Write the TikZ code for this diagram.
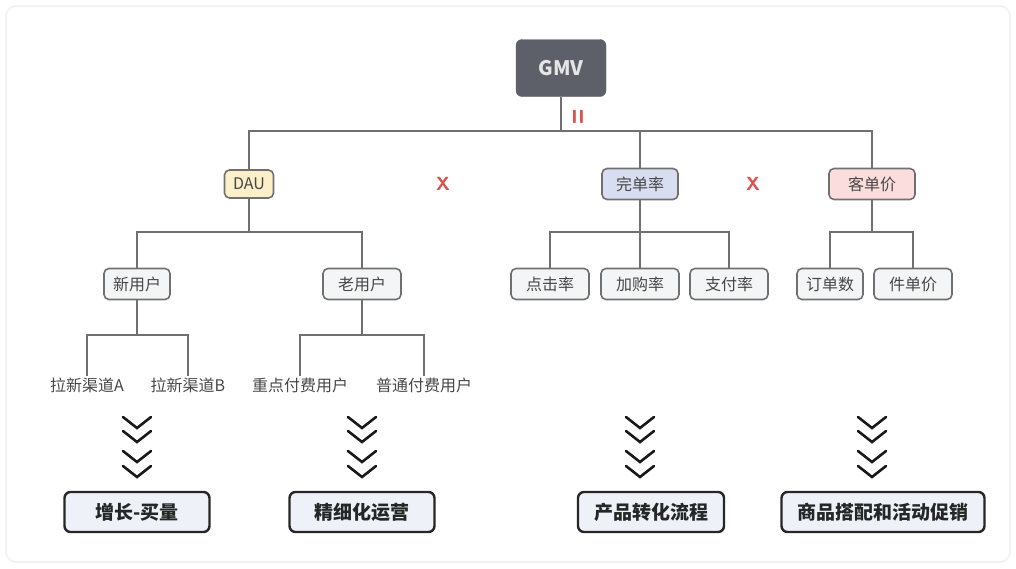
\documentclass[tikz,border=0pt]{standalone}
\usepackage{fontspec}
\newfontfamily\cjk{Noto Sans CJK SC}
\usetikzlibrary{positioning}
\definecolor{lineg}{HTML}{707070}
\definecolor{textg}{HTML}{474747}
\definecolor{cellg}{HTML}{F4F5F6}
\definecolor{gmvg}{HTML}{5D6068}
\definecolor{dauy}{HTML}{FBF0C8}
\definecolor{wdlb}{HTML}{D8DDF1}
\definecolor{kdjp}{HTML}{FCDDDD}
\definecolor{resbg}{HTML}{EEF2F8}
\definecolor{opred}{HTML}{D9534F}

\begin{document}
\begin{tikzpicture}[x=1pt, y=-1pt,
  box/.style={draw=lineg, line width=1.6pt, rounded corners=5pt, fill=cellg, text=textg,
              font=\cjk\fontsize{16}{19}\selectfont, minimum width=78pt, minimum height=31pt, inner sep=2pt},
  topbox/.style={draw=gmvg, fill=gmvg, rounded corners=6pt, text=white!90!black,
                 font=\cjk\bfseries\fontsize{20}{24}\selectfont, minimum width=90pt, minimum height=57pt},
  leaf/.style={text=textg, font=\cjk\fontsize{16}{19}\selectfont, inner sep=1pt},
  result/.style={draw=black!85, line width=2.4pt, rounded corners=6pt, fill=resbg, text=black!85,
                 font=\cjk\bfseries\fontsize{19}{22}\selectfont, minimum width=145pt, minimum height=40pt, inner xsep=16pt},
  link/.style={draw=lineg, line width=2pt},
  op/.style={text=opred, font=\sffamily\bfseries\fontsize{19}{19}\selectfont},
  chev/.style={draw=black!90, line width=2.6pt, line cap=round, line join=miter}
]
\useasboundingbox (0,0) rectangle (1016,568);
\draw[black!5, line width=2pt, rounded corners=10pt] (6,6) rectangle (1010,562);

% top level
\node[topbox] (gmv) at (561,68) {GMV};
\node[box, fill=dauy, minimum width=49pt, minimum height=28pt] (dau) at (249,184) {DAU};
\node[box, fill=wdlb, minimum width=76pt] (wdl) at (640,184) {完单率};
\node[box, fill=kdjp, minimum width=86pt] (kdj) at (872,184) {客单价};
\node[op] (eq) at (578,117) {II};
\node[op] (x1) at (443,184) {X};
\node[op] (x2) at (753,184) {X};

% second level
\node[box, minimum width=66pt] (xyh) at (137,284) {新用户};
\node[box] (lyh) at (362,284) {老用户};
\node[box] (djl) at (550,284) {点击率};
\node[box] (jgl) at (640,284) {加购率};
\node[box] (zfl) at (729,284) {支付率};
\node[box, minimum width=66pt] (dds) at (830,284) {订单数};
\node[box] (jdj) at (913,284) {件单价};

% leaves
\node[leaf] (qda) at (87,385) {拉新渠道A};
\node[leaf] (qdb) at (188,385) {拉新渠道B};
\node[leaf] (zdf) at (300,385) {重点付费用户};
\node[leaf] (ptf) at (424,385) {普通付费用户};

% results
\node[result] (zz) at (137,512) {增长-买量};
\node[result] (jxh) at (362,512) {精细化运营};
\node[result] (cpzh) at (651,512) {产品转化流程};
\node[result] (sphd) at (883,512) {商品搭配和活动促销};

% connectors
\coordinate (bar) at (561,131);
\coordinate (dsplit) at (249,232);
\coordinate (wsplit) at (640,232);
\coordinate (ksplit) at (872,232);
\coordinate (xsplit) at (137,335);
\coordinate (lsplit) at (362,335);
\draw[link] (gmv) -- (bar);
\draw[link] (dau) |- (bar) -| (kdj);
\draw[link] (bar) -| (wdl);
\draw[link] (dau) -- (dsplit);
\draw[link] (xyh) |- (dsplit) -| (lyh);
\draw[link] (wdl) -- (jgl);
\draw[link] (djl) |- (wsplit) -| (zfl);
\draw[link] (kdj) -- (ksplit);
\draw[link] (dds) |- (ksplit) -| (jdj);
\draw[link] (xyh) -- (xsplit);
\draw[link] (qda) |- (xsplit) -| (qdb);
\draw[link] (lyh) -- (lsplit);
\draw[link] (zdf) |- (lsplit) -| (ptf);

% chevrons
\foreach \cx in {137,362,640,872}
  \foreach \ty in {428,442,462,477}
    \draw[chev] (\cx-14,\ty-11) -- (\cx,\ty) -- (\cx+14,\ty-11);
\end{tikzpicture}
\end{document}
